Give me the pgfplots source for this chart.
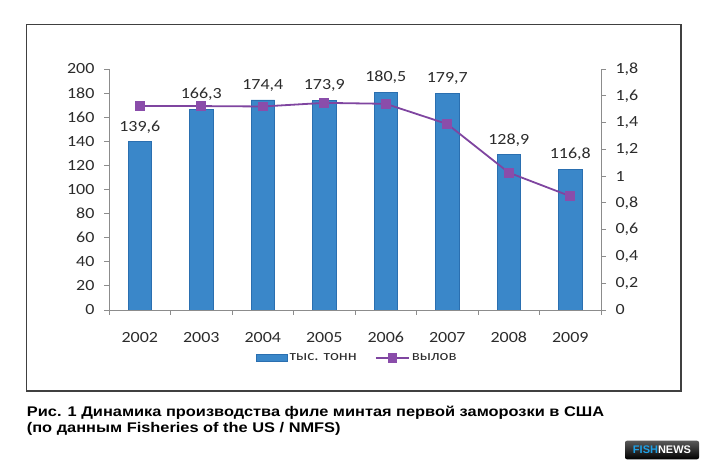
\documentclass[border=0pt]{standalone}
\usepackage{fontspec}
\setmainfont[FakeStretch=1.16]{Carlito}
\newfontfamily\capfont[FakeStretch=1.17]{Liberation Sans}
\newfontfamily\logofont{Liberation Sans}
\usepackage{pgfplots}
\pgfplotsset{compat=1.18}
\definecolor{barblue}{HTML}{3A87C9}
\definecolor{baredge}{HTML}{2A6FB0}
\definecolor{linepurple}{HTML}{7F45A0}
\definecolor{markpurple}{HTML}{8A4DAA}
\definecolor{axgray}{HTML}{8C8C8C}
\definecolor{txt}{HTML}{2B2B2B}
\definecolor{fishblue}{HTML}{1EA0E6}
\begin{document}
\begin{tikzpicture}[x=1pt,y=1pt]
\path[use as bounding box] (0,0) rectangle (709,470);
\draw[line width=1.3pt, draw=black!75] (26.5,445.7) rectangle (681,79);
\begin{axis}[
  at={(109pt,160pt)}, anchor=south west, scale only axis,
  width=492pt, height=241pt,
  xmin=-0.5, xmax=7.5, ymin=0, ymax=200,
  axis y line*=left, axis x line*=bottom,
  axis line style={-, axgray, line width=0.8pt},
  tick style={axgray, line width=0.8pt},
  major tick length=5pt, tick align=outside,
  ytick={0,20,...,200},
  xtick={0,...,7},
  xtick style={draw=none},
  xticklabels={2002,2003,2004,2005,2006,2007,2008,2009},
  /pgf/number format/assume math mode=true,
  every tick label/.append style={font=\fontsize{15.5}{18}\selectfont, color=txt},
  yticklabel style={xshift=-6pt},
  xticklabel style={anchor=north, text height=10pt, text depth=0pt, inner sep=0pt, yshift=-17pt},
  ybar, bar width=23.5pt,
  clip=false,
  nodes near coords={\pgfmathprintnumber[fixed,fixed zerofill,precision=1,use comma]{\pgfplotspointmeta}},
  every node near coord/.append style={font=\fontsize{15.5}{18}\selectfont, color=txt, yshift=5pt},
  legend style={draw=none, fill=none, inner sep=0pt, outer sep=0pt, at={(0.2988,-0.199)}, anchor=west,
    font=\fontsize{14.5}{17}\selectfont, text=txt},
]
\addplot[fill=barblue, draw=baredge, line width=0.6pt,
  legend image code/.code={\draw[fill=barblue,draw=baredge] (0pt,-3.5pt) rectangle (31pt,3.5pt);}]
  coordinates {(0,139.6) (1,166.3) (2,174.4) (3,173.9) (4,180.5) (5,179.7) (6,128.9) (7,116.8)};
\addlegendentry{тыс. тонн}
\end{axis}
\begin{axis}[
  at={(109pt,160pt)}, anchor=south west, scale only axis,
  width=492pt, height=241pt,
  xmin=-0.5, xmax=7.5, ymin=0, ymax=1.8,
  axis y line*=right, axis x line*=bottom,
  axis line style={-, axgray, line width=0.8pt},
  tick style={axgray, line width=0.8pt},
  major tick length=5pt, tick align=outside,
  xtick={-0.5,0.5,...,7.5}, xticklabels={},
  ytick={0,0.2,0.4,0.6,0.8,1,1.2,1.4,1.6,1.8},
  /pgf/number format/assume math mode=true,
  /pgf/number format/use comma,
  every tick label/.append style={font=\fontsize{15.5}{18}\selectfont, color=txt},
  yticklabel style={xshift=6pt},
  clip=false,
  legend style={draw=none, fill=none, inner sep=0pt, outer sep=0pt, at={(0.5407,-0.199)}, anchor=west,
    font=\fontsize{14.5}{17}\selectfont, text=txt},
]
\addplot[linepurple, line width=1.8pt, mark=square*, mark size=4pt,
  mark options={fill=markpurple, draw=markpurple},
  legend image code/.code={\draw[mark repeat=2,mark phase=2] plot coordinates {(0pt,0pt) (16.5pt,0pt) (33pt,0pt)};}]
  coordinates {(0,1.523) (1,1.523) (2,1.52) (3,1.547) (4,1.54) (5,1.389) (6,1.026) (7,0.85)};
\addlegendentry{вылов}
\end{axis}
\node[anchor=base west, inner sep=0, font=\capfont\bfseries\fontsize{14}{16}\selectfont] at (26.7,53) {Рис. 1 Динамика производства филе минтая первой заморозки в США};
\node[anchor=base west, inner sep=0, font=\capfont\bfseries\fontsize{14}{16}\selectfont] at (26.7,37) {(по данным Fisheries of the US / NMFS)};
\shade[rounded corners=2pt, top color=black!65, bottom color=black] (625,10.7) rectangle (699,29.3);
\node[inner sep=0, font=\logofont\bfseries\fontsize{11}{12}\selectfont] at (662,20) {\textcolor{fishblue}{FISH}\textcolor{white}{NEWS}};
\end{tikzpicture}
\end{document}
